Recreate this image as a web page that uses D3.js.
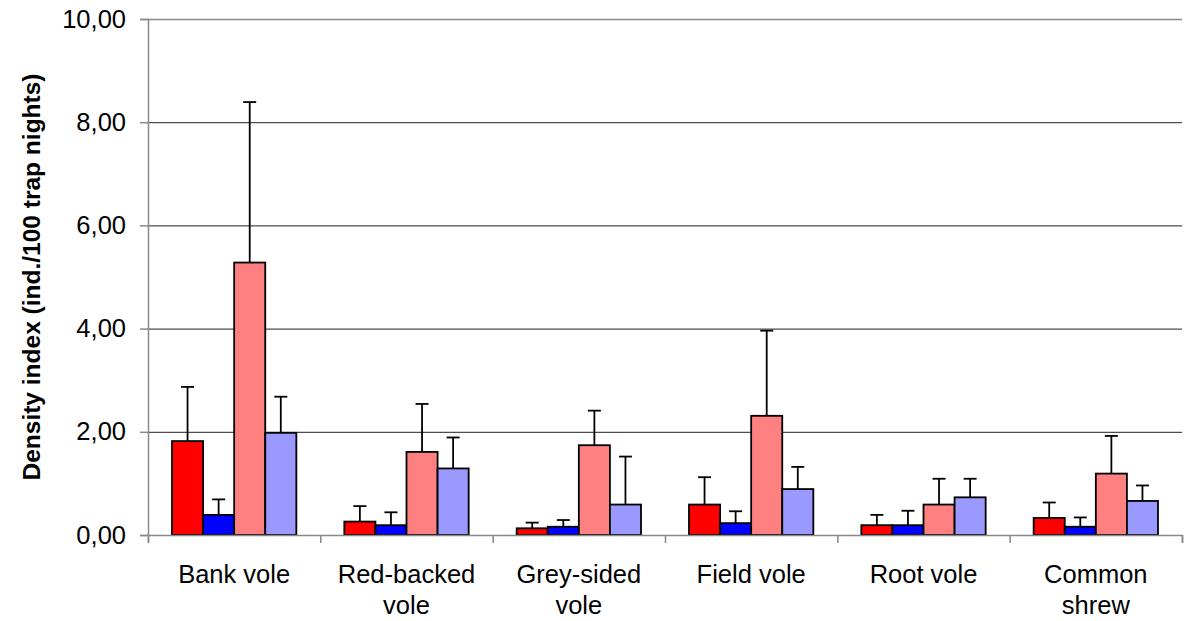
<!DOCTYPE html>
<html>
<head>
	<meta charset="UTF-8" />
	<title>density index</title>
	<script src="https://d3js.org/d3.v7.min.js"></script>
	<style>
		body { margin: 0; background: #fff; }
		text { font-family: "Liberation Sans", Arial, sans-serif; }
	</style>
</head>
<body>
	<svg id="chart" style="width:1189px; height:621px"></svg>

	<script type="text/javascript">

	// categories (two-line labels)
	var categories = ["Bank vole", "Red-backed vole", "Grey-sided vole", "Field vole", "Root vole", "Common shrew"]
	var labelLines = [["Bank vole"], ["Red-backed", "vole"], ["Grey-sided", "vole"], ["Field vole"], ["Root vole"], ["Common", "shrew"]]
	var seriesNames = ["s1", "s2", "s3", "s4"]
	var seriesColors = ["#ff0000", "#0000ff", "#ff8080", "#9999ff"]

	// mean density per series, one value per category
	var s1Values = [1.82, 0.26, 0.13, 0.59, 0.19, 0.33]
	var s2Values = [0.39, 0.19, 0.16, 0.23, 0.19, 0.16]
	var s3Values = [5.28, 1.61, 1.74, 2.31, 0.59, 1.19]
	var s4Values = [1.98, 1.29, 0.59, 0.89, 0.73, 0.66]

	// error (upper) per series
	var s1Err = [1.05, 0.30, 0.11, 0.53, 0.20, 0.30]
	var s2Err = [0.30, 0.25, 0.13, 0.23, 0.28, 0.18]
	var s3Err = [3.11, 0.93, 0.67, 1.65, 0.50, 0.73]
	var s4Err = [0.70, 0.60, 0.93, 0.43, 0.36, 0.30]

	var yTicks = [0, 2, 4, 6, 8, 10]

	var allValues = [s1Values, s2Values, s3Values, s4Values]
	var allErr = [s1Err, s2Err, s3Err, s4Err]

	var margin = {left: 148, top: 19, right: 7, bottom: 86}
	var width = 1189 - margin.left - margin.right   // 1034
	var height = 621 - margin.top - margin.bottom   // 516

	var svg = d3.select("#chart")
	var g = svg.append("g").attr("transform", "translate(" + margin.left + "," + margin.top + ")")

	var yScale = d3.scaleLinear().domain([0, 10]).range([height, 0])
	var xScale = d3.scaleBand().domain(categories).range([0, width]).paddingInner(0).paddingOuter(0)
	var inner = d3.scaleBand().domain(seriesNames).range([24, xScale.bandwidth() - 24]).padding(0)
	var edgeScale = d3.scaleLinear().domain([0, categories.length]).range([0, width])

	var commaFmt = d => d3.format(".2f")(d).replace(".", ",")

	// gridlines
	g.append("g")
		.call(d3.axisLeft(yScale).tickValues(yTicks.slice(1)).tickSize(-width).tickFormat(""))
		.call(a => a.select(".domain").remove())
		.selectAll("line")
		.attr("stroke", d => d === 10 ? "#888" : "#222")
		.attr("stroke-width", d => d === 10 ? 1.5 : 1)

	// bars
	seriesNames.forEach((s, si) => {
		var data = categories.map((c, ci) => ({cat: c, v: allValues[si][ci], e: allErr[si][ci]}))
		var cx = d => xScale(d.cat) + inner(s) + inner.bandwidth() / 2

		g.append("g").selectAll("line")
			.data(data)
			.enter()
			.append("line")
			.attr("x1", cx)
			.attr("x2", cx)
			.attr("y1", d => yScale(d.v))
			.attr("y2", d => yScale(d.v + d.e))
			.attr("stroke", "black")
			.attr("stroke-width", 1.8)

		g.append("g").selectAll("line")
			.data(data)
			.enter()
			.append("line")
			.attr("x1", d => cx(d) - 6.5)
			.attr("x2", d => cx(d) + 6.5)
			.attr("y1", d => yScale(d.v + d.e))
			.attr("y2", d => yScale(d.v + d.e))
			.attr("stroke", "black")
			.attr("stroke-width", 1.8)

		g.append("g").selectAll("rect")
			.data(data)
			.enter()
			.append("rect")
			.attr("x", d => xScale(d.cat) + inner(s))
			.attr("width", inner.bandwidth())
			.attr("y", d => yScale(d.v))
			.attr("height", d => yScale(0) - yScale(d.v))
			.attr("fill", seriesColors[si])
			.attr("stroke", "black")
			.attr("stroke-width", 1.8)
	})

	// y axis
	var yAxis = g.append("g")
		.call(d3.axisLeft(yScale).tickValues(yTicks).tickSize(8).tickPadding(14).tickFormat(commaFmt))
	yAxis.select(".domain").attr("stroke", "#888").attr("stroke-width", 1.5)
	yAxis.selectAll(".tick line").attr("stroke", "#888").attr("stroke-width", 1.5)
	yAxis.selectAll("text").attr("font-size", "25.5px").attr("fill", "#000")
		.attr("font-family", "Liberation Sans, Arial, sans-serif")

	// x axis (category boundary ticks)
	var xAxis = g.append("g")
		.attr("transform", "translate(0," + height + ")")
		.call(d3.axisBottom(edgeScale).tickValues(d3.range(0, categories.length + 1)).tickSize(8).tickFormat(""))
	xAxis.select(".domain").attr("stroke", "#888").attr("stroke-width", 1.5)
	xAxis.selectAll(".tick line").attr("stroke", "#888").attr("stroke-width", 1.5)

	// category labels
	var labels = g.append("g").selectAll("text")
		.data(categories)
		.enter()
		.append("text")
		.attr("text-anchor", "middle")
		.attr("font-size", "25.5px")
		.attr("x", d => xScale(d) + xScale.bandwidth() / 2)
		.attr("y", height + 48)
	labels.each(function(d, i) {
		var t = d3.select(this)
		labelLines[i].forEach((line, li) => {
			t.append("tspan")
				.attr("x", xScale(d) + xScale.bandwidth() / 2)
				.attr("dy", li === 0 ? 0 : 31)
				.text(line)
		})
	})

	// y title
	svg.append("text")
		.attr("transform", "translate(40,277) rotate(-90)")
		.attr("text-anchor", "middle")
		.attr("font-size", "24.5px")
		.attr("font-weight", "bold")
		.text("Density index (ind./100 trap nights)")

	</script>
</body>
</html>
